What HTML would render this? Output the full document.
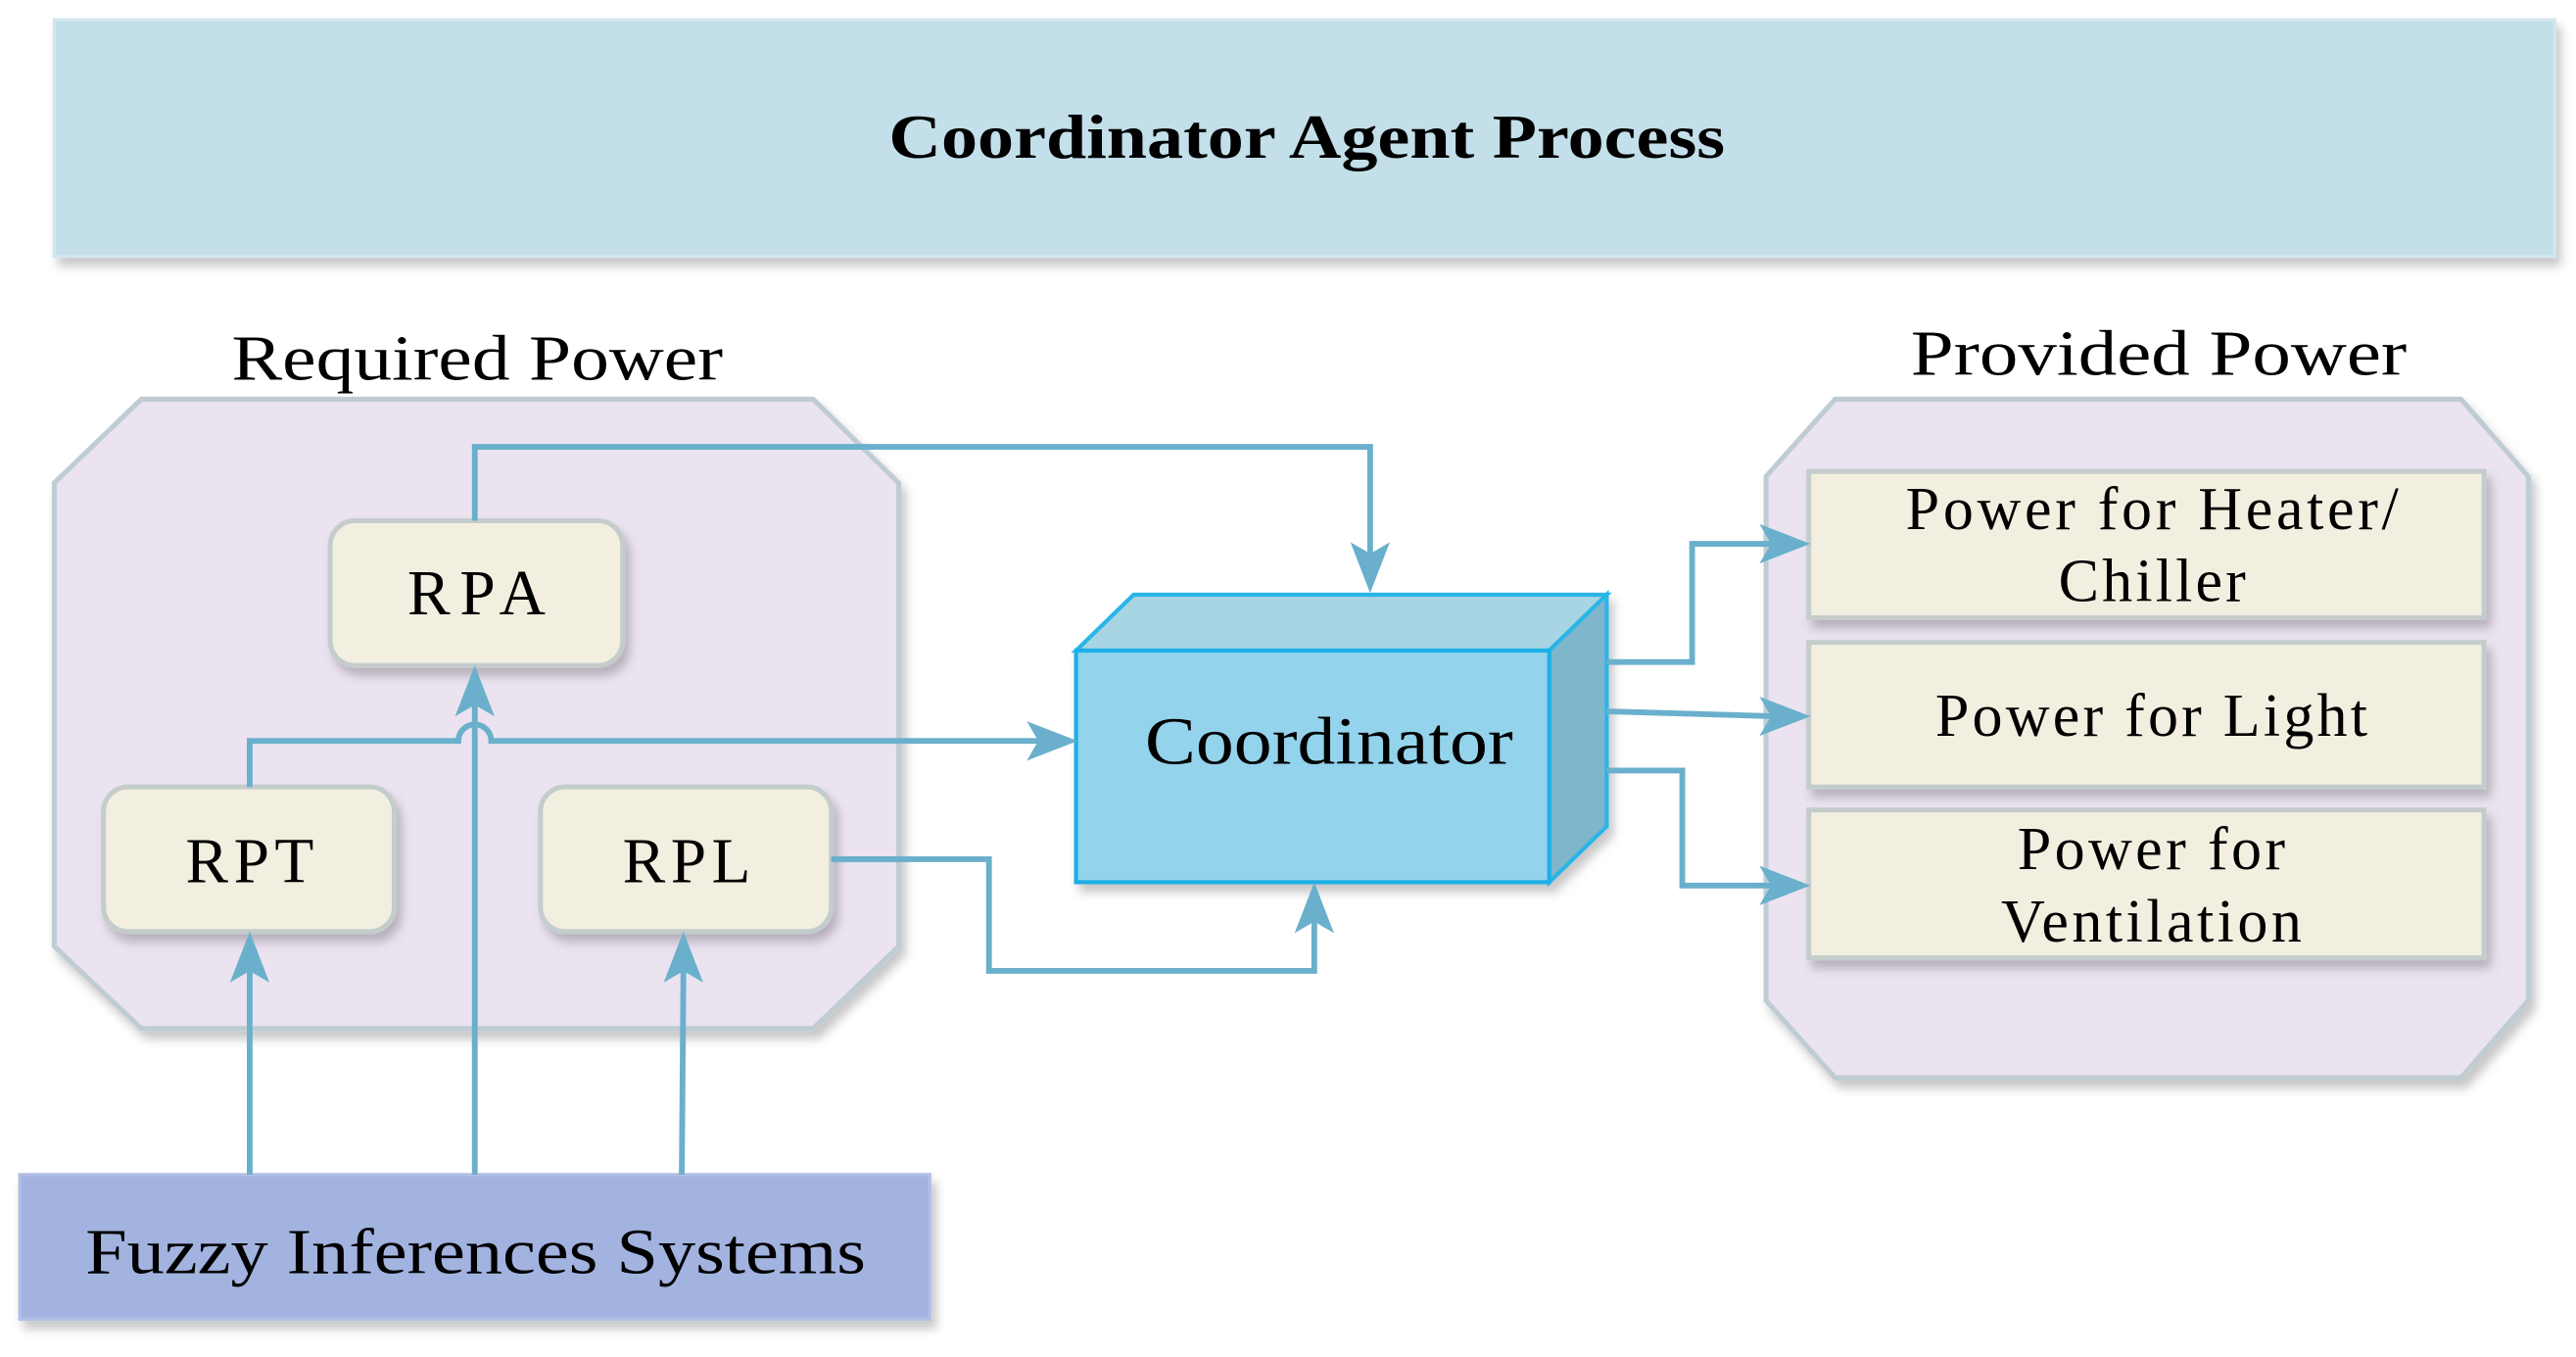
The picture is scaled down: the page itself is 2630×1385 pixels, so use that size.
<!DOCTYPE html>
<html><head><meta charset="utf-8"><style>
html,body{margin:0;padding:0;background:#fff;}
svg{display:block;}
text{font-family:"Liberation Serif",serif;fill:#000;}
</style></head><body>
<svg width="2630" height="1385" viewBox="0 0 1568 826" preserveAspectRatio="none" xmlns="http://www.w3.org/2000/svg">
<defs>
<filter id="sh" x="-10%" y="-10%" width="130%" height="140%">
<feDropShadow dx="3" dy="5" stdDeviation="3" flood-color="#000" flood-opacity="0.22"/>
</filter>
</defs>
<!-- title -->
<rect x="33" y="12" width="1522" height="144" fill="#c3dfe9" stroke="#d3e6ee" stroke-width="2" filter="url(#sh)"/>
<text x="541" y="96" font-size="38" font-weight="bold" textLength="509" lengthAdjust="spacingAndGlyphs">Coordinator Agent Process</text>

<!-- left octagon -->
<text x="141" y="231" font-size="39" textLength="299" lengthAdjust="spacingAndGlyphs">Required Power</text>
<polygon points="86,243 495,243 547,294 547,576 495,626 86,626 33,576 33,294" fill="#ebe3f0" stroke="#c0ccd4" stroke-width="3" filter="url(#sh)"/>

<!-- right octagon -->
<text x="1163" y="228" font-size="39" textLength="302" lengthAdjust="spacingAndGlyphs">Provided Power</text>
<polygon points="1117,243 1498,243 1539,290 1539,609 1498,656 1117,656 1075,609 1075,290" fill="#ebe3f0" stroke="#c0ccd4" stroke-width="3" filter="url(#sh)"/>

<!-- rounded boxes -->
<g fill="#f2efe0" stroke="#c4cccc" stroke-width="3" filter="url(#sh)">
<rect x="201" y="317" width="178" height="88" rx="15"/>
<rect x="63" y="479" width="177" height="88" rx="15"/>
<rect x="329" y="479" width="177" height="88" rx="15"/>
<rect x="1101" y="287" width="411" height="89"/>
<rect x="1101" y="391" width="411" height="88"/>
<rect x="1101" y="493" width="411" height="90"/>
</g>
<g font-size="39" lengthAdjust="spacingAndGlyphs">
<text x="248" y="374" textLength="84">RPA</text>
<text x="113" y="537" textLength="78">RPT</text>
<text x="379" y="537" textLength="78">RPL</text>
</g>
<g font-size="37" lengthAdjust="spacingAndGlyphs">
<text x="1160" y="322" textLength="300">Power for Heater/</text>
<text x="1253" y="366" textLength="114">Chiller</text>
<text x="1178" y="448" textLength="263">Power for Light</text>
<text x="1228" y="529" textLength="163">Power for</text>
<text x="1218" y="573" textLength="183">Ventilation</text>
</g>

<!-- fuzzy -->
<rect x="12" y="715" width="554" height="88" fill="#a2b3e0" stroke="#b2c0e6" stroke-width="2" filter="url(#sh)"/>
<text x="52" y="775" font-size="39" textLength="475" lengthAdjust="spacingAndGlyphs">Fuzzy Inferences Systems</text>

<!-- cube -->
<g filter="url(#sh)">
<polygon points="655,396 690,362 978,362 943,396" fill="#a8d5e4" stroke="#2ab5e8" stroke-width="2.5"/>
<polygon points="943,396 978,362 978,503 943,537" fill="#80b6cc" stroke="#2ab5e8" stroke-width="2.5"/>
<rect x="655" y="396" width="288" height="141" fill="#94d3ec" stroke="#1fb0e6" stroke-width="2.5"/>
</g>
<text x="697" y="465" font-size="41" textLength="224" lengthAdjust="spacingAndGlyphs">Coordinator</text>

<!-- connectors -->
<g fill="none" stroke="#6ab0cc" stroke-width="3.5">
<polyline points="289,317 289,272 834,272 834,340"/>
<polyline points="152,715 152,590"/>
<polyline points="289,715 289,428"/>
<polyline points="415,715 416,590"/>
<path d="M152,479 V451 H279 A10,10 0 0 1 299,451 H633"/>
<polyline points="506,523 602,523 602,591 800,591 800,560"/>
<polyline points="978,403 1030,403 1030,331 1080,331"/>
<polyline points="978,433 1080,436"/>
<polyline points="978,469 1024,469 1024,539 1080,539"/>
</g>
<g fill="#6ab0cc">
<polygon points="834,361 822,330 834,337 846,330"/>
<polygon points="152,567 140,598 152,591 164,598"/>
<polygon points="289,405 277,436 289,429 301,436"/>
<polygon points="416,567 404,598 416,591 428,598"/>
<polygon points="656,451 625,439 632,451 625,463"/>
<polygon points="800,537 788,568 800,561 812,568"/>
<polygon points="1102,331 1071,319 1078,331 1071,343"/>
<polygon points="1102,436 1071,424 1078,436 1071,448"/>
<polygon points="1102,539 1071,527 1078,539 1071,551"/>
</g>
</svg>
</body></html>
